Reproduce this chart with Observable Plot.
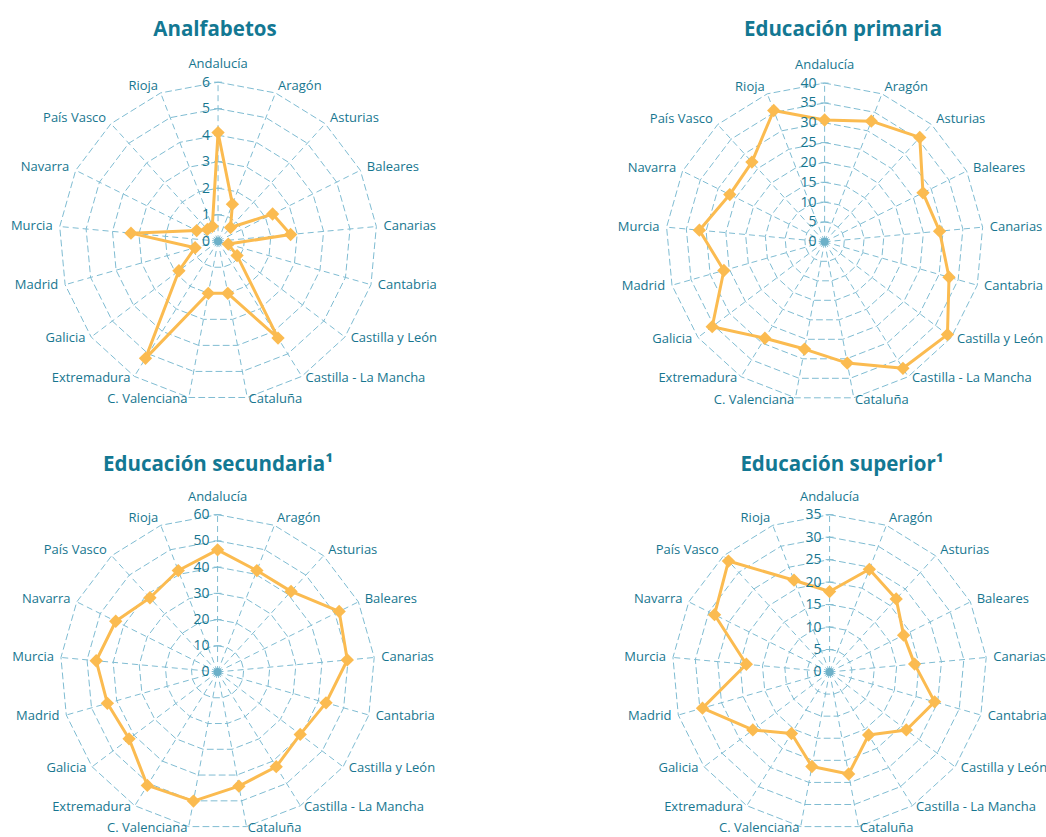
<!DOCTYPE html>
<html><head><meta charset="utf-8">
<script src="https://cdn.jsdelivr.net/npm/d3@7"></script>
<script src="https://cdn.jsdelivr.net/npm/@observablehq/plot@0.6"></script>
<style>
body{margin:0;background:#fff;overflow:hidden}
#chart{position:relative;width:1046px;height:837px;overflow:hidden;font-family:"Open Sans",sans-serif}
.title{position:absolute;transform:translate(-50%,-50%);font-weight:700;font-size:20.5px;color:#137893;white-space:nowrap;font-family:"Open Sans",sans-serif}
.panel{position:absolute}
.panel svg{overflow:visible;max-width:none !important;display:block}
</style></head><body><div id="chart"></div>
<script>
const regions = ["Andalucía","Aragón","Asturias","Baleares","Canarias","Cantabria","Castilla y León","Castilla - La Mancha","Cataluña","C. Valenciana","Extremadura","Galicia","Madrid","Murcia","Navarra","País Vasco","Rioja"];
const analfabetos = [4.1, 1.5, 0.7, 2.3, 2.75, 0.4, 0.9, 4.3, 2.0, 2.0, 5.2, 1.85, 0.9, 3.3, 0.9, 0.6, 0.6];
const primaria = [30.7, 32.6, 35.6, 27.7, 29.1, 32.6, 38.8, 37.5, 31.1, 27.5, 28.6, 35.5, 26.4, 31.7, 26.7, 27.2, 35.5];
const secundaria = [46.6, 41.5, 41.6, 51.8, 49.7, 43.0, 39.5, 42.5, 44.3, 50.1, 50.9, 42.3, 43.7, 46.5, 43.4, 38.3, 41.5];
const superior = [17.9, 24.5, 22.0, 18.4, 19.0, 24.3, 21.4, 16.5, 23.1, 21.4, 16.1, 21.4, 29.4, 18.6, 28.6, 33.4, 21.9];
const ticksAnalf = [0,1,2,3,4,5,6];
const ticksPrim = [0,5,10,15,20,25,30,35,40];
const ticksSec = [0,10,20,30,40,50,60];
const ticksSup = [0,5,10,15,20,25,30,35];
const titles = ["Analfabetos","Educación primaria","Educación secundaria¹","Educación superior¹"];

const TEXT = "#17768f", GRID = "#80bcd2", ORANGE = "#fbbb50";
const panels = [
  {title:titles[0], values:analfabetos, ticks:ticksAnalf, cx:217.3, cy:241, unit:159, tx:215, ty:28},
  {title:titles[1], values:primaria, ticks:ticksPrim, cx:824.3, cy:241, unit:158.7, tx:843, ty:28},
  {title:titles[2], values:secundaria, ticks:ticksSec, cx:216.7, cy:671.7, unit:157.3, tx:218, ty:463},
  {title:titles[3], values:superior, ticks:ticksSup, cx:829, cy:671.7, unit:157.3, tx:842, ty:463}
];
const N = regions.length;
const ang = i => 2*Math.PI*i/N;
const chart = document.getElementById("chart");
for (const p of panels) {
  const max = p.ticks[p.ticks.length-1];
  const pts = p.values.map((v,i)=>({x: v/max*Math.sin(ang(i)), y: v/max*Math.cos(ang(i))}));
  const rings = p.ticks.filter(t=>t>0).flatMap(t => regions.map((r,i)=>({t, x: t/max*Math.sin(ang(i)), y: t/max*Math.cos(ang(i))})));
  const spokes = regions.map((r,i)=>({x2: Math.sin(ang(i)), y2: Math.cos(ang(i))}));
  const labels = regions.map((r,i)=>{const s=Math.sin(ang(i)), c=Math.cos(ang(i)); return {name:r, x:1.045*s, y:(c>0?1.05:1.01)*c, side: Math.abs(s)<0.01?"m":(s>0?"s":"e")};});
  const tickMarks = p.ticks.filter(t=>t>0);
  const W = 2.9*p.unit, H = 2.6*p.unit;
  const svg = Plot.plot({
    width: W, height: H, margin: 0,
    x: {domain:[-1.45,1.45], axis:null},
    y: {domain:[-1.3,1.3], axis:null},
    style: {fontFamily:'"Open Sans", sans-serif', fontSize:"13px", color:TEXT, background:"transparent", overflow:"visible"},
    marks: [
      Plot.line(rings, {x:"x", y:"y", z:"t", curve:"linear-closed", stroke:GRID, strokeWidth:1, strokeDasharray:"6,4"}),
      Plot.link(spokes, {x1: d=>0*d.x2, y1: d=>0*d.y2, x2:"x2", y2:"y2", stroke:GRID, strokeWidth:1, strokeDasharray:"6,4"}),
      Plot.link(tickMarks, {x1: t=>-0.025, x2: t=>0.025, y1: t=>t/max, y2: t=>t/max, stroke:GRID, strokeWidth:1}),
      Plot.dot([p.ticks[0]], {x: t=>t, y: t=>t/max, r:4, fill:"#6cb0c8"}),
      Plot.line(pts, {x:"x", y:"y", curve:"linear-closed", stroke:ORANGE, strokeWidth:3}),
      Plot.dot(pts, {x:"x", y:"y", symbol:"diamond2", r:6, fill:ORANGE}),
      Plot.text(p.ticks, {x: t=>0, y: t=>t/max, text: t=>String(t), textAnchor:"end", dx:-8, fontSize:14}),
      Plot.text(labels.filter(d=>d.side==="s"), {x:"x", y:"y", text:"name", textAnchor:"start"}),
      Plot.text(labels.filter(d=>d.side==="e"), {x:"x", y:"y", text:"name", textAnchor:"end"}),
      Plot.text(labels.filter(d=>d.side==="m"), {x:"x", y:"y", text:"name", textAnchor:"middle", lineAnchor:"bottom", dy:-6})
    ]
  });
  svg.style.width = W + "px";
  svg.style.height = H + "px";
  const div = document.createElement("div");
  div.className = "panel";
  div.style.left = (p.cx - W/2) + "px";
  div.style.top = (p.cy - H/2) + "px";
  div.style.width = W + "px";
  div.style.height = H + "px";
  div.appendChild(svg);
  chart.appendChild(div);
  const t = document.createElement("div");
  t.className = "title";
  t.style.left = p.tx + "px";
  t.style.top = p.ty + "px";
  t.textContent = p.title;
  chart.appendChild(t);
}
</script></body></html>
